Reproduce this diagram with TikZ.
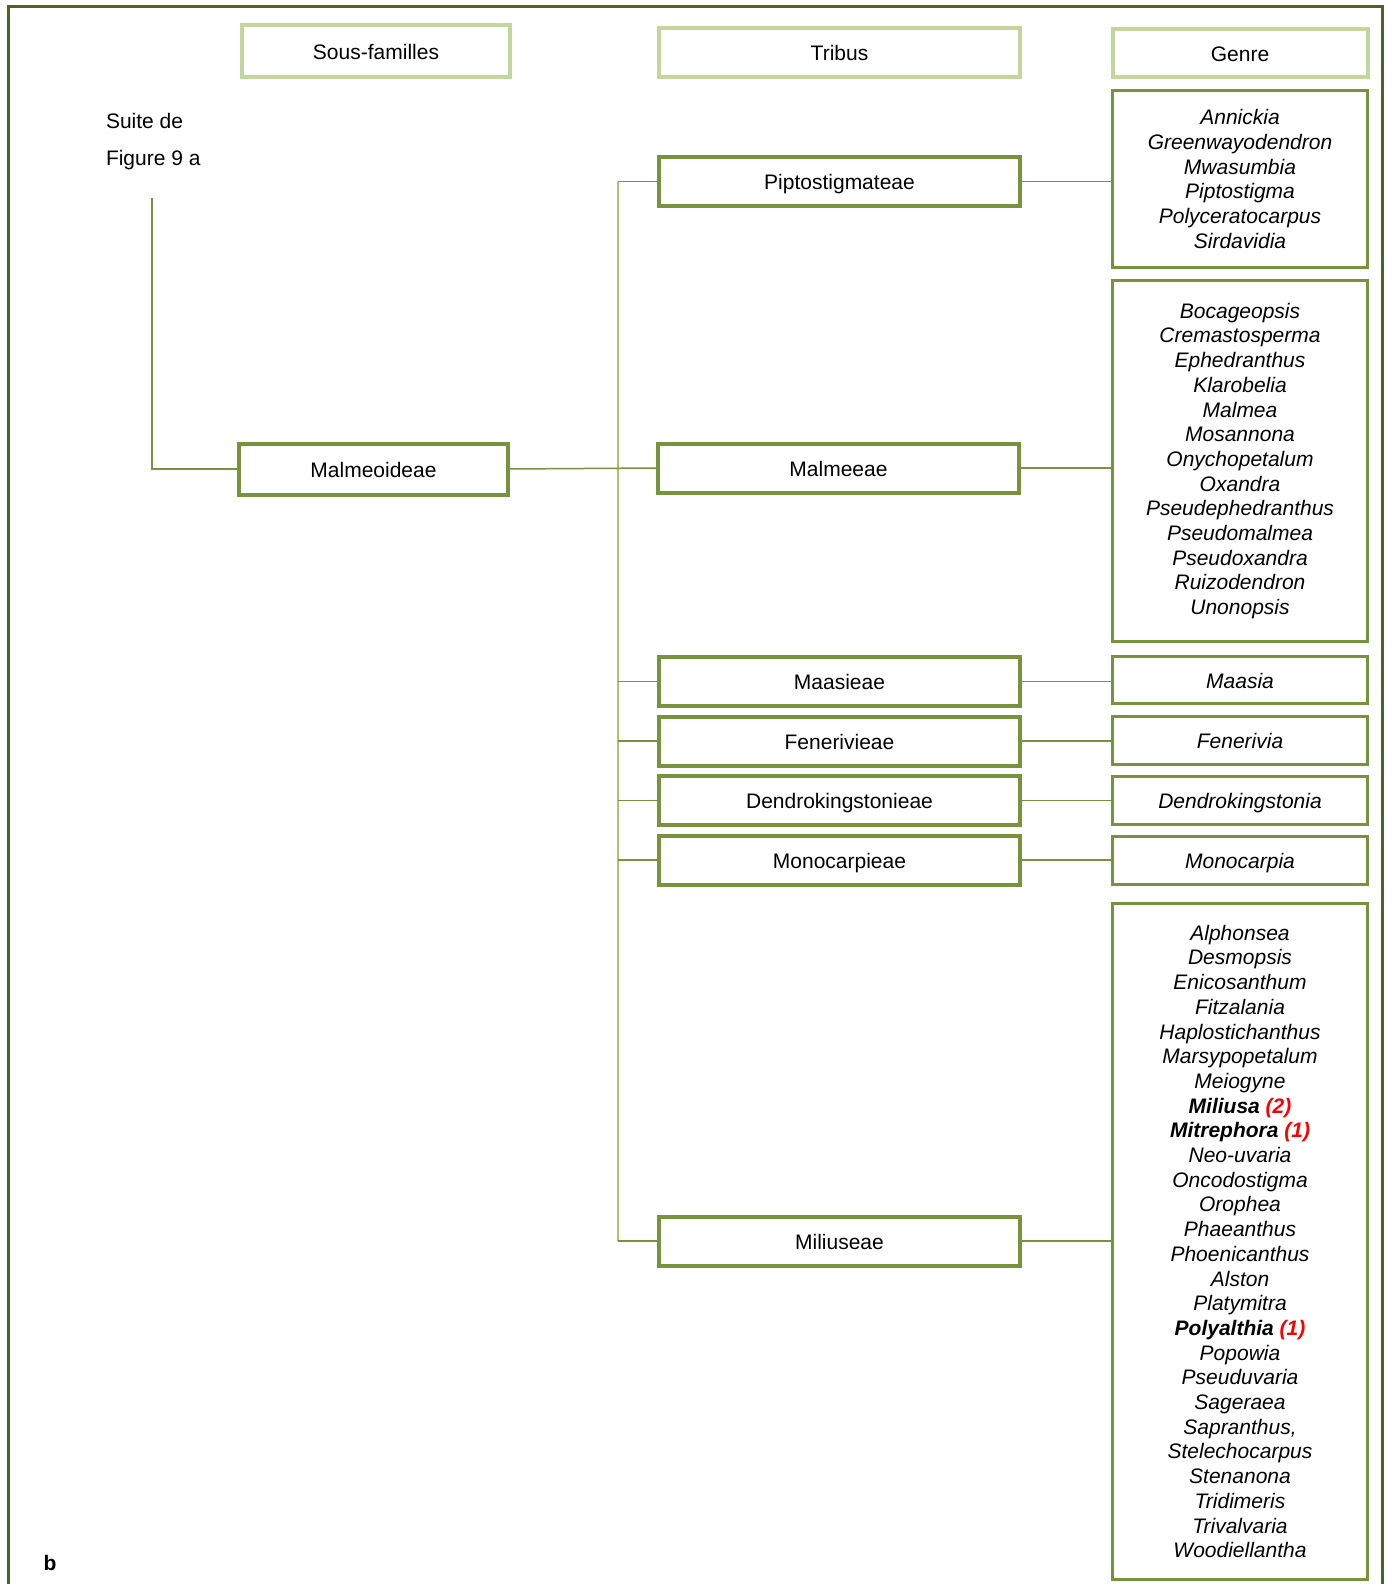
\documentclass[tikz,border=0pt]{standalone}
\usepackage{fontspec}
\setmainfont{Liberation Sans}
\definecolor{olive}{HTML}{77933C}
\definecolor{lightolive}{HTML}{C3D69B}
\definecolor{trunkgreen}{HTML}{A9C66F}
\definecolor{framegreen}{HTML}{4F6228}
\begin{document}
\begin{tikzpicture}[x=1pt,y=-1pt,
  every node/.style={inner sep=0pt,outer sep=0pt},
  txt/.style={font=\fontsize{21}{24.7}\selectfont},
  one/.style={text height=18pt,text depth=1.5pt},
  headbox/.style={txt,one,draw=lightolive,line width=4pt,minimum height=49pt},
  tribox/.style={txt,one,draw=olive,line width=4pt,minimum width=361pt,minimum height=49pt},
  genbox/.style={draw=olive,line width=3pt,minimum width=255pt,align=center,font=\fontsize{21}{24.7}\selectfont\itshape},
  conn/.style={draw=olive,line width=1.5pt},
  trunk/.style={draw=trunkgreen,line width=1.5pt}]
\useasboundingbox (0,0) rectangle (1388,1584);
\fill[white] (0,0) rectangle (1388,1584);
\draw[framegreen,line width=3pt] (8,1590) -- (8,7) -- (1382,7) -- (1382,1590);

% headers
\node[headbox,minimum width=268pt,minimum height=52pt] (hS) at (376,51) {Sous-familles};
\node[headbox,minimum width=361pt] (hT) at (839.5,52.5) {Tribus};
\node[headbox,minimum width=255pt,minimum height=48pt] (hG) at (1240,53) {Genre};

% left note
\node[txt,anchor=west] (suite) at (106,121) {Suite de};
\node[txt,anchor=west] (fig) at (106,160.5) {Figure 9 a};
\coordinate (noteEnd) at (152,198);

% sous-famille
\node[tribox,minimum width=269pt,minimum height=51pt] (sMal) at (373.5,469) {Malmeoideae};

% tribus
\node[tribox] (tPip) at (839.5,181.5) {Piptostigmateae};
\node[tribox] (tMal) at (838.5,468) {Malmeeae};
\node[tribox] (tMaa) at (839.5,681.5) {Maasieae};
\node[tribox] (tFen) at (839.5,741) {Fenerivieae};
\node[tribox] (tDen) at (839.5,800.5) {Dendrokingstonieae};
\node[tribox] (tMon) at (839.5,860) {Monocarpieae};
\node[tribox] (tMil) at (839.5,1241) {Miliuseae};

% genres
\node[genbox,minimum height=177pt] (gPip) at (1240,179) {Annickia\\Greenwayodendron\\Mwasumbia\\Piptostigma\\Polyceratocarpus\\Sirdavidia};
\node[genbox,minimum height=361pt] (gMal) at (1240,461) {Bocageopsis\\Cremastosperma\\Ephedranthus\\Klarobelia\\Malmea\\Mosannona\\Onychopetalum\\Oxandra\\Pseudephedranthus\\Pseudomalmea\\Pseudoxandra\\Ruizodendron\\Unonopsis};
\node[genbox,one,minimum height=47pt] (gMaa) at (1240,680) {Maasia};
\node[genbox,one,minimum height=48pt] (gFen) at (1240,740.5) {Fenerivia};
\node[genbox,one,minimum height=48pt] (gDen) at (1240,800) {Dendrokingstonia};
\node[genbox,one,minimum height=48pt] (gMon) at (1240,860.5) {Monocarpia};
\node[genbox,minimum height=676pt] (gMil) at (1240,1241.5) {Alphonsea\\Desmopsis\\Enicosanthum\\Fitzalania\\Haplostichanthus\\Marsypopetalum\\Meiogyne\\\textbf{Miliusa} \textcolor{red}{\textbf{(2)}}\\\textbf{Mitrephora} \textcolor{red}{\textbf{(1)}}\\Neo-uvaria\\Oncodostigma\\Orophea\\Phaeanthus\\Phoenicanthus\\Alston\\Platymitra\\\textbf{Polyalthia} \textcolor{red}{\textbf{(1)}}\\Popowia\\Pseuduvaria\\Sageraea\\Sapranthus,\\Stelechocarpus\\Stenanona\\Tridimeris\\Trivalvaria\\Woodiellantha};

\node[anchor=center,font=\fontsize{21}{24.7}\selectfont\bfseries] (lb) at (50,1563) {b};

% connectors
\coordinate (trTop) at (618,181.5);
\coordinate (trBot) at (618,1241);
\draw[trunk] (trTop) -- (trBot);
\draw[conn] (noteEnd) |- (sMal.west);
\draw[conn] (sMal.east) -- (tMal.west);
\foreach \t in {tPip,tMaa,tFen,tDen,tMon,tMil}{
  \draw[conn] (\t.west) -- (\t.west -| trTop);
}
\draw[conn] (tPip.east) -- (tPip.east -| gPip.west);
\draw[conn] (tMal.east) -- (tMal.east -| gMal.west);
\draw[conn] (tMaa.east) -- (tMaa.east -| gMaa.west);
\draw[conn] (tFen.east) -- (tFen.east -| gFen.west);
\draw[conn] (tDen.east) -- (tDen.east -| gDen.west);
\draw[conn] (tMon.east) -- (tMon.east -| gMon.west);
\draw[conn] (tMil.east) -- (tMil.east -| gMil.west);
\end{tikzpicture}
\end{document}
